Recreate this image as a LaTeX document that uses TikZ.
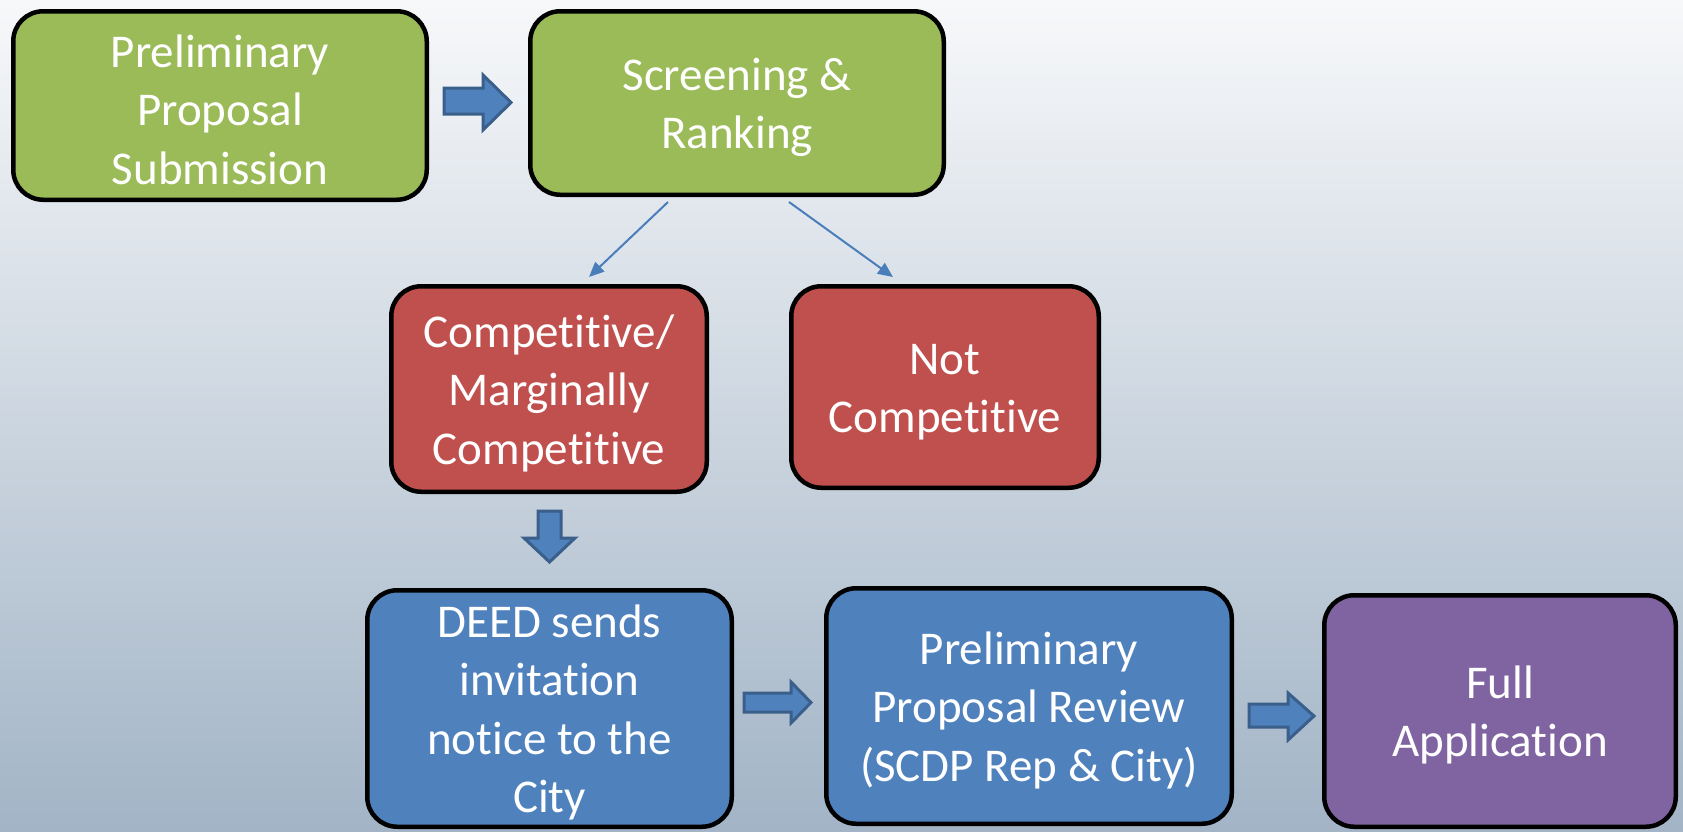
\documentclass[tikz,border=0pt]{standalone}
\usepackage{fontspec}
\setmainfont{Carlito}[Ligatures=NoCommon]
\usetikzlibrary{arrows.meta}
\definecolor{bgtop}{HTML}{F7F8FA}
\definecolor{bgbot}{HTML}{A2B4C6}
\definecolor{boxgreen}{HTML}{9BBB59}
\definecolor{boxred}{HTML}{C0504D}
\definecolor{boxblue}{HTML}{4F81BD}
\definecolor{boxpurple}{HTML}{8064A2}
\definecolor{arrowfill}{HTML}{4F81BD}
\definecolor{arrowedge}{HTML}{3A5F8B}
\definecolor{thinline}{HTML}{4A7EBB}
\newcommand\firststrut{\rule{0pt}{41pt}}
\tikzset{
  stagebox/.style={draw=black, line width=4.5pt, rounded corners=30pt,
    text=white, align=center, inner sep=0pt,
    font=\fontsize{47}{58.5}\selectfont},
  blockarrow/.style={fill=arrowfill, draw=arrowedge, line width=3pt, line join=miter},
  thinarrow/.style={draw=thinline, line width=2pt, -{Triangle[length=15pt,width=13pt]}}
}
\begin{document}
\begin{tikzpicture}[x=1pt,y=-1pt]
\shade[top color=bgtop, bottom color=bgbot] (0,0) rectangle (1683,831);
\useasboundingbox (0,0) rectangle (1683,831);

\node[stagebox, fill=boxgreen, minimum width=413.5pt, minimum height=188.5pt] (b1) at (220,105.5)
  {\firststrut Preliminary\\Proposal\\Submission};
\node[stagebox, fill=boxgreen, minimum width=413.5pt, minimum height=183.5pt] (b2) at (737,103)
  {\firststrut Screening \&\\Ranking};
\node[stagebox, fill=boxred, minimum width=315.5pt, minimum height=205.5pt] (b3) at (549,389)
  {\firststrut Competitive/\\Marginally\\Competitive};
\node[stagebox, fill=boxred, minimum width=307.5pt, minimum height=201.5pt] (b4) at (945,387)
  {\firststrut Not\\Competitive};
\node[stagebox, fill=boxblue, minimum width=364.5pt, minimum height=236.5pt] (b5) at (549.5,708.5)
  {\firststrut DEED sends\\invitation\\notice to the\\City};
\node[stagebox, fill=boxblue, minimum width=405.5pt, minimum height=235.5pt] (b6) at (1029,706)
  {\firststrut Preliminary\\Proposal Review\\(SCDP Rep \& City)};
\node[stagebox, fill=boxpurple, minimum width=351.5pt, minimum height=231.5pt] (b7) at (1500,711)
  {\firststrut Full\\Application};

% block arrows
\draw[blockarrow] (444,88) -- (483,88) -- (483,75) -- (511,102.5) -- (483,130) -- (483,114) -- (444,114) -- cycle;
\draw[blockarrow] (538,511) -- (561,511) -- (561,538) -- (575,538) -- (549.5,562) -- (524,538) -- (538,538) -- cycle;
\draw[blockarrow] (744,693) -- (791,693) -- (791,682) -- (811,702.5) -- (791,723) -- (791,712) -- (744,712) -- cycle;
\draw[blockarrow] (1249,704) -- (1288,704) -- (1288,693) -- (1314,716) -- (1288,740) -- (1288,727) -- (1249,727) -- cycle;

% thin arrows
\coordinate (s1) at (668,202);
\coordinate (e1) at (589,277);
\coordinate (s2) at (789,202);
\coordinate (e2) at (893,277);
\draw[thinarrow] (s1) -- (e1);
\draw[thinarrow] (s2) -- (e2);
\end{tikzpicture}
\end{document}
